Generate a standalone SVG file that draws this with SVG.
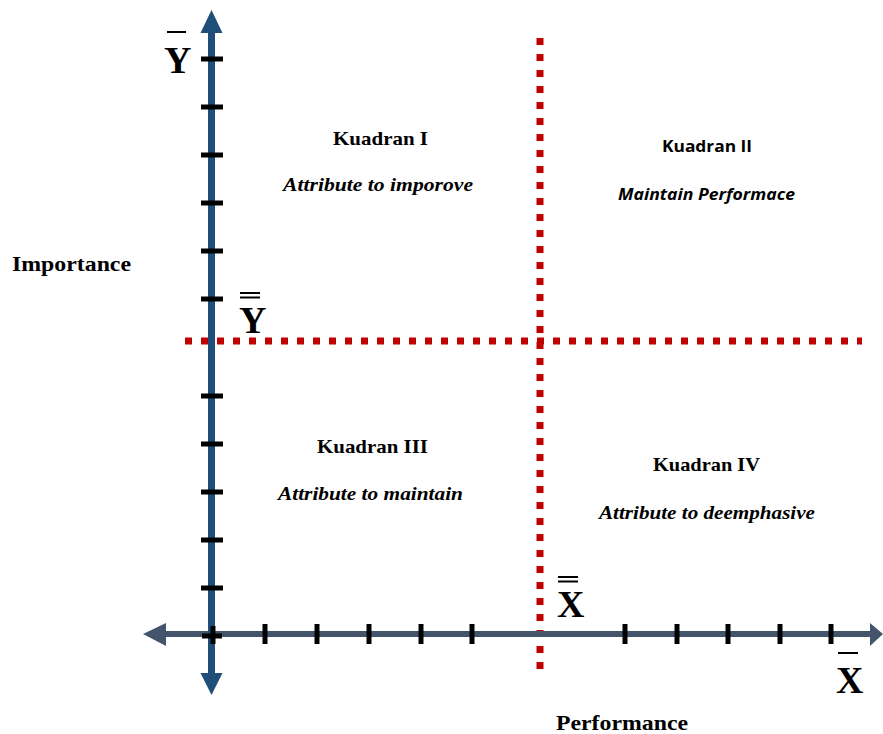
<svg xmlns="http://www.w3.org/2000/svg" width="883" height="734" viewBox="0 0 883 734">
<style>
.serif{font-family:"Liberation Serif","Times New Roman",serif;font-weight:bold;fill:#000}
.it{font-style:italic}
.sans{font-family:"Open Sans","Noto Sans","Liberation Sans",sans-serif;font-weight:bold;fill:#000}
.tick{stroke:#000;stroke-width:5}
.dot{stroke:#c00000;stroke-width:7;stroke-dasharray:7 9;fill:none}
.bar{stroke:#000;stroke-width:2}
</style>
<rect width="883" height="734" fill="#fff"/>
<g id="dotted-lines">
<line class="dot" x1="185" y1="341" x2="862" y2="341"/>
<line class="dot" x1="540" y1="38" x2="540" y2="670"/>
</g>
<g id="axes">
<line x1="165" y1="634" x2="872" y2="634" stroke="#44546a" stroke-width="6"/>
<polygon points="143,634 166,623 166,646" fill="#44546a"/>
<polygon points="883,634 870,623 870,646" fill="#44546a"/>
<line x1="211.5" y1="30" x2="211.5" y2="676" stroke="#1f4e79" stroke-width="7"/>
<polygon points="211.5,10 200.5,33 222.5,33" fill="#1f4e79"/>
<polygon points="211.5,695 200.5,673 222.5,673" fill="#1f4e79"/>
</g>
<g id="ticks">
<line class="tick" x1="201" y1="59" x2="223" y2="59"/>
<line class="tick" x1="201" y1="107" x2="223" y2="107"/>
<line class="tick" x1="201" y1="155" x2="223" y2="155"/>
<line class="tick" x1="201" y1="203" x2="223" y2="203"/>
<line class="tick" x1="201" y1="251" x2="223" y2="251"/>
<line class="tick" x1="201" y1="299" x2="223" y2="299"/>
<line class="tick" x1="201" y1="396" x2="223" y2="396"/>
<line class="tick" x1="201" y1="444" x2="223" y2="444"/>
<line class="tick" x1="201" y1="492" x2="223" y2="492"/>
<line class="tick" x1="201" y1="540" x2="223" y2="540"/>
<line class="tick" x1="201" y1="588" x2="223" y2="588"/>
<line class="tick" x1="202" y1="636" x2="222" y2="636"/>
<line class="tick" x1="213" y1="626" x2="213" y2="644" stroke-width="6"/>
<line class="tick" x1="265" y1="624" x2="265" y2="644" stroke-width="6"/>
<line class="tick" x1="317" y1="624" x2="317" y2="644" stroke-width="6"/>
<line class="tick" x1="369" y1="624" x2="369" y2="644" stroke-width="6"/>
<line class="tick" x1="421" y1="624" x2="421" y2="644" stroke-width="6"/>
<line class="tick" x1="472" y1="624" x2="472" y2="644" stroke-width="6"/>
<line class="tick" x1="625" y1="624" x2="625" y2="644" stroke-width="6"/>
<line class="tick" x1="677" y1="624" x2="677" y2="644" stroke-width="6"/>
<line class="tick" x1="728" y1="624" x2="728" y2="644" stroke-width="6"/>
<line class="tick" x1="780" y1="624" x2="780" y2="644" stroke-width="6"/>
<line class="tick" x1="831" y1="624" x2="831" y2="644" stroke-width="6"/>
</g>
<g id="axis-labels">
<text class="serif" x="12" y="271" font-size="21" textLength="119" lengthAdjust="spacingAndGlyphs">Importance</text>
<text class="serif" x="556" y="730" font-size="21" textLength="132" lengthAdjust="spacingAndGlyphs">Performance</text>
</g>
<g id="y-bar">
<line class="bar" x1="167" y1="32" x2="186" y2="32"/>
<text class="serif" x="164" y="73" font-size="38">Y</text>
</g>
<g id="y-doublebar">
<line class="bar" x1="240" y1="293" x2="260" y2="293"/>
<line class="bar" x1="240" y1="297.5" x2="260" y2="297.5"/>
<text class="serif" x="239" y="333" font-size="38">Y</text>
</g>
<g id="x-doublebar">
<line class="bar" x1="558" y1="577" x2="578" y2="577"/>
<line class="bar" x1="558" y1="581.5" x2="578" y2="581.5"/>
<text class="serif" x="557" y="617" font-size="38">X</text>
</g>
<g id="x-bar">
<line class="bar" x1="838" y1="653" x2="858" y2="653"/>
<text class="serif" x="836" y="693" font-size="38">X</text>
</g>
<g id="kuadran-1">
<text class="serif" x="333" y="145" font-size="19" textLength="95" lengthAdjust="spacingAndGlyphs">Kuadran I</text>
<text class="serif it" x="283" y="191" font-size="19" textLength="190" lengthAdjust="spacingAndGlyphs">Attribute to imporove</text>
</g>
<g id="kuadran-2">
<text class="sans" x="662" y="152" font-size="16" textLength="90" lengthAdjust="spacingAndGlyphs">Kuadran II</text>
<text class="sans it" x="618" y="200" font-size="16" textLength="177" lengthAdjust="spacingAndGlyphs">Maintain Performace</text>
</g>
<g id="kuadran-3">
<text class="serif" x="317" y="453" font-size="19" textLength="111" lengthAdjust="spacingAndGlyphs">Kuadran III</text>
<text class="serif it" x="278" y="500" font-size="19" textLength="185" lengthAdjust="spacingAndGlyphs">Attribute to maintain</text>
</g>
<g id="kuadran-4">
<text class="serif" x="653" y="471" font-size="19" textLength="107" lengthAdjust="spacingAndGlyphs">Kuadran IV</text>
<text class="serif it" x="599" y="519" font-size="19" textLength="216" lengthAdjust="spacingAndGlyphs">Attribute to deemphasive</text>
</g>
</svg>
